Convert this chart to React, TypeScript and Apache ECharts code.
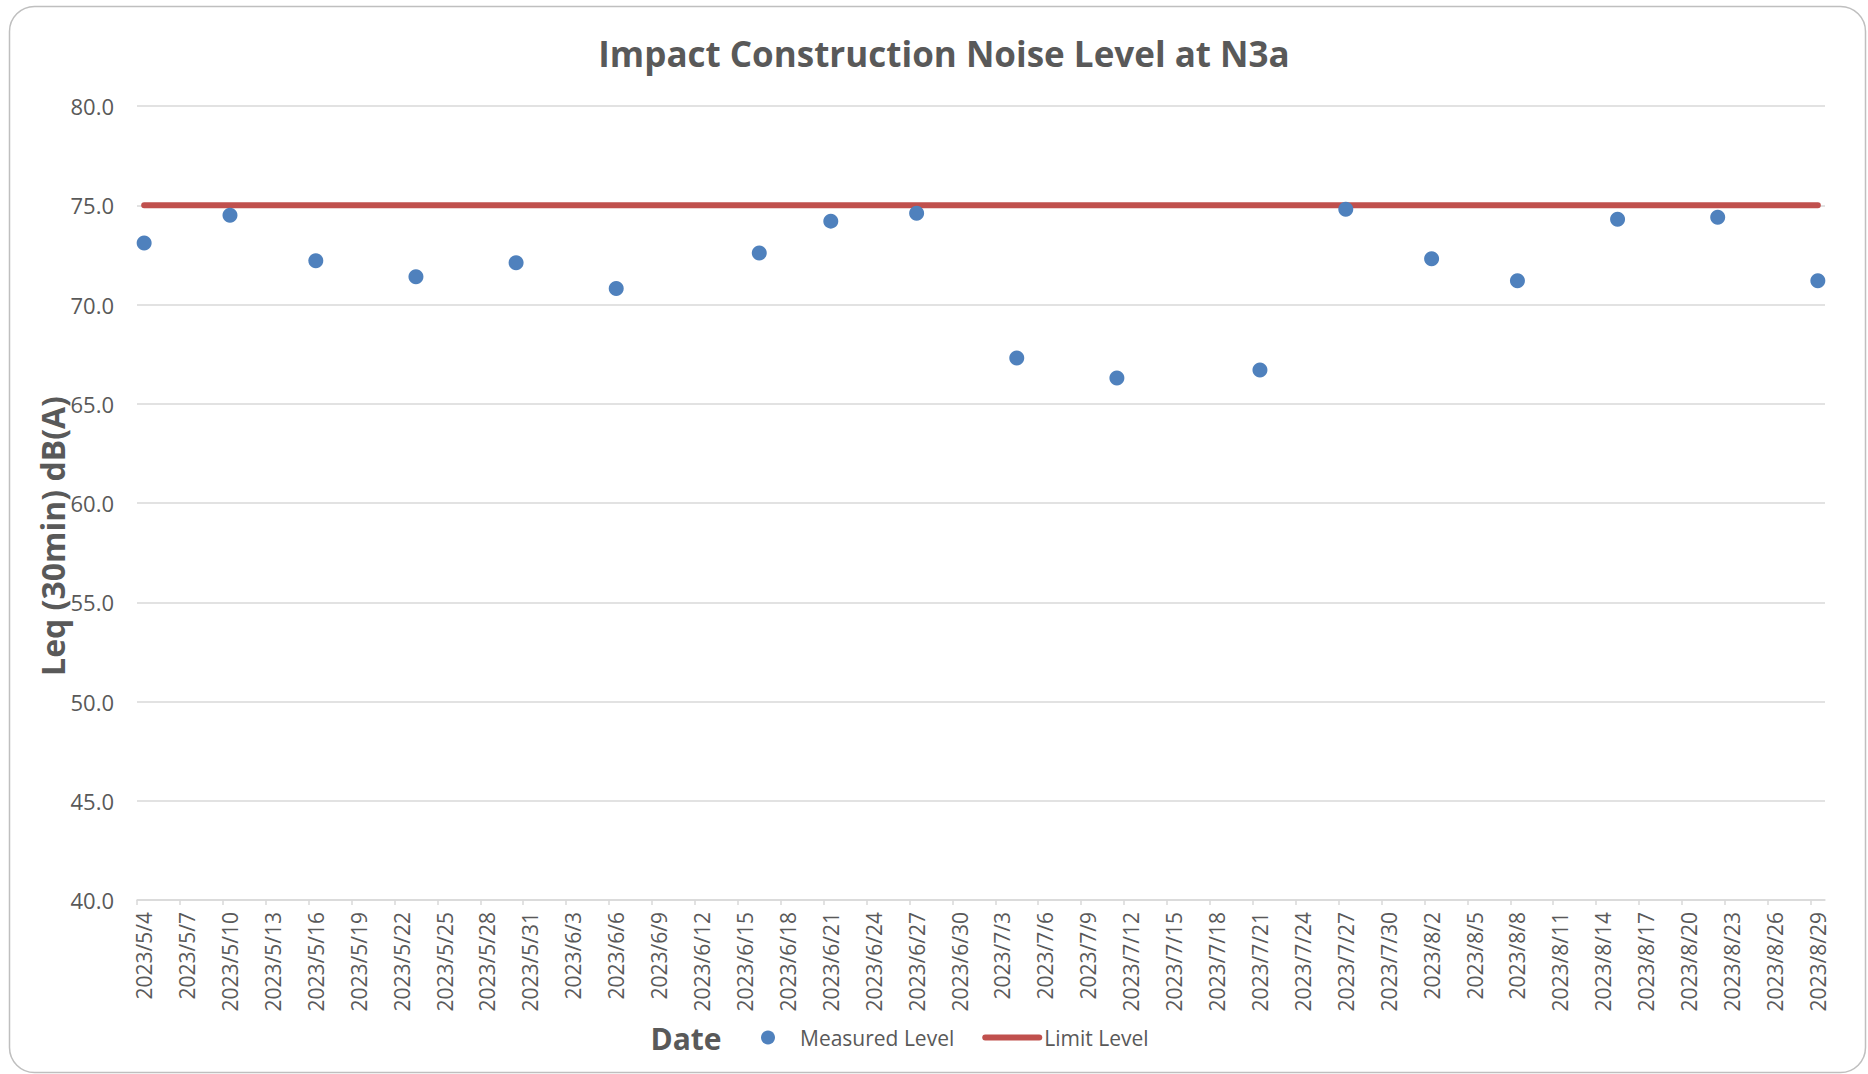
import React, { useEffect, useRef } from "react";
import * as echarts from "echarts";

// ---- Data ----
const tickLabels = [
  "2023/5/4", "2023/5/7", "2023/5/10", "2023/5/13", "2023/5/16", "2023/5/19", "2023/5/22", "2023/5/25", "2023/5/28", "2023/5/31",
  "2023/6/3", "2023/6/6", "2023/6/9", "2023/6/12", "2023/6/15", "2023/6/18", "2023/6/21", "2023/6/24", "2023/6/27", "2023/6/30",
  "2023/7/3", "2023/7/6", "2023/7/9", "2023/7/12", "2023/7/15", "2023/7/18", "2023/7/21", "2023/7/24", "2023/7/27", "2023/7/30",
  "2023/8/2", "2023/8/5", "2023/8/8", "2023/8/11", "2023/8/14", "2023/8/17", "2023/8/20", "2023/8/23", "2023/8/26", "2023/8/29",
];

const measuredDates = [
  "2023/5/4", "2023/5/10", "2023/5/16", "2023/5/23", "2023/5/30", "2023/6/6",
  "2023/6/16", "2023/6/21", "2023/6/27", "2023/7/4", "2023/7/11", "2023/7/21",
  "2023/7/27", "2023/8/2", "2023/8/8", "2023/8/15", "2023/8/22", "2023/8/29",
];
const measuredLevels = [
  73.1, 74.5, 72.2, 71.4, 72.1, 70.8,
  72.6, 74.2, 74.6, 67.3, 66.3, 66.7,
  74.8, 72.3, 71.2, 74.3, 74.4, 71.2,
];
const limitLevels = [
  75, 75, 75, 75, 75, 75,
  75, 75, 75, 75, 75, 75,
  75, 75, 75, 75, 75, 75,
];
const yTicks = [40, 45, 50, 55, 60, 65, 70, 75, 80];

const TITLE = "Impact Construction Noise Level at N3a";
const Y_TITLE = "Leq (30min) dB(A)";
const X_TITLE = "Date";

// ---- helpers ----
const toUTC = (s: string) => {
  const [y, m, d] = s.split("/").map(Number);
  return Date.UTC(y, m - 1, d);
};
const START = toUTC(tickLabels[0]);
const dayIndex = (s: string) => Math.round((toUTC(s) - START) / 86400000);

const FONT = "'Open Sans', 'Noto Sans', sans-serif";
const TEXT = "#595959";
const GRID = "#D9D9D9";
const BLUE = "#4F81BD";
const RED = "#C0504D";

export default function App() {
  const ref = useRef<HTMLDivElement>(null);

  useEffect(() => {
    if (!ref.current) return;
    const chart = echarts.init(ref.current, undefined, { renderer: "svg" });

    const tickVals = tickLabels.map((t) => dayIndex(t));
    const labelVals = tickLabels.map((t) => dayIndex(t) + 0.5);
    const labelMap: Record<string, string> = {};
    tickLabels.forEach((t) => {
      labelMap[String(dayIndex(t) + 0.5)] = t;
    });
    const xMax = dayIndex(tickLabels[tickLabels.length - 1]) + 1;

    const measuredData = measuredDates.map((d, i) => [dayIndex(d) + 0.5, measuredLevels[i]]);
    const limitData = measuredDates.map((d, i) => [dayIndex(d) + 0.5, limitLevels[i]]);

    chart.setOption({
      animation: false,
      backgroundColor: "#ffffff",
      textStyle: { fontFamily: FONT },
      title: {
        text: TITLE,
        left: 939,
        top: 31,
        textAlign: "center",
        textStyle: { fontSize: 35, fontWeight: "bold", color: TEXT, fontFamily: FONT },
      },
      legend: {
        left: 756,
        top: 1022,
        itemWidth: 54,
        itemHeight: 14,
        itemGap: 28,
        lineStyle: { width: 6, cap: "round" },
        textStyle: { fontSize: 21, color: TEXT, fontFamily: FONT },
        data: [
          { name: "Measured Level", icon: "circle", itemStyle: { color: BLUE, opacity: 1 } },
          { name: "Limit Level", itemStyle: { opacity: 0 }, lineStyle: { width: 6, color: RED, cap: "round" } },
        ],
      },
      grid: { left: 137, right: 43, top: 106, bottom: 174, containLabel: false },
      xAxis: {
        type: "value",
        min: 0,
        max: xMax,
        axisLine: { show: true, lineStyle: { color: GRID, width: 1.5 } },
        axisTick: {
          show: true,
          customValues: tickVals,
          length: 5,
          lineStyle: { color: GRID, width: 1.5 },
        },
        splitLine: { show: false },
        axisLabel: {
          customValues: labelVals,
          rotate: 90,
          margin: 12,
          fontSize: 21,
          color: TEXT,
          fontFamily: FONT,
          formatter: (v: number) => labelMap[String(v)] ?? "",
        },
      },
      yAxis: {
        type: "value",
        min: yTicks[0],
        max: yTicks[yTicks.length - 1],
        interval: yTicks[1] - yTicks[0],
        axisLine: { show: false },
        axisTick: { show: false },
        splitLine: { show: true, lineStyle: { color: GRID, width: 1.5 } },
        axisLabel: {
          fontSize: 22,
          color: TEXT,
          fontFamily: FONT,
          margin: 23,
          formatter: (v: number) => v.toFixed(1),
        },
      },
      graphic: [
        {
          type: "rect",
          shape: { x: 9.5, y: 6.5, width: 1856, height: 1066, r: 25 },
          style: { fill: "none", stroke: "#BFBFBF", lineWidth: 1.5 },
          silent: true,
          z: -1,
        },
        {
          type: "text",
          x: 52,
          y: 536,
          rotation: Math.PI / 2,
          style: {
            text: Y_TITLE,
            fontSize: 32,
            fontWeight: "bold",
            fill: TEXT,
            fontFamily: FONT,
            textAlign: "center",
            textVerticalAlign: "middle",
          },
        },
        {
          type: "text",
          x: 686,
          y: 1038,
          style: {
            text: X_TITLE,
            fontSize: 30,
            fontWeight: "bold",
            fill: TEXT,
            fontFamily: FONT,
            textAlign: "center",
            textVerticalAlign: "middle",
          },
        },
      ],
      series: [
        {
          name: "Measured Level",
          type: "scatter",
          data: measuredData,
          symbol: "circle",
          symbolSize: 15,
          itemStyle: { color: BLUE, opacity: 1 },
          z: 3,
        },
        {
          name: "Limit Level",
          type: "line",
          data: limitData,
          symbol: "none",
          showSymbol: false,
          lineStyle: { color: RED, width: 6, cap: "round" },
          itemStyle: { color: RED },
          z: 2,
        },
      ],
    });

    return () => chart.dispose();
  }, []);

  return (
    <div
      ref={ref}
      style={{ position: "absolute", left: 0, top: 0, width: 1868, height: 1074, background: "#fff" }}
    />
  );
}
